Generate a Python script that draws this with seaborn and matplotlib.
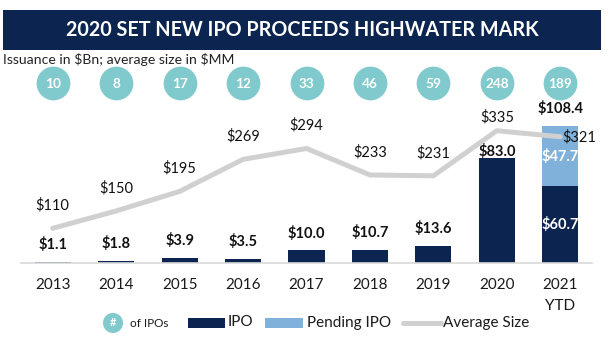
import matplotlib
matplotlib.use("Agg")
import numpy as np
import pandas as pd
import seaborn as sns
import matplotlib.pyplot as plt
from matplotlib.patches import Rectangle, Circle
from matplotlib.lines import Line2D

# ---- data ----
years = ["2013", "2014", "2015", "2016", "2017", "2018", "2019", "2020", "2021\nYTD"]
ipo_proceeds = [1.1, 1.8, 3.9, 3.5, 10.0, 10.7, 13.6, 83.0, 60.7]
pending_proceeds = [0, 0, 0, 0, 0, 0, 0, 0, 47.7]
avg_size = [110, 150, 195, 269, 294, 233, 231, 335, 321]
num_ipos = [10, 8, 17, 12, 33, 46, 59, 248, 189]

title = "2020 SET NEW IPO PROCEEDS HIGHWATER MARK"
subtitle = "Issuance in $Bn; average size in $MM"

NAVY = "#0c2550"
LIGHT = "#80b1da"
TEAL = "#80c9cc"
GRAY = "#d0d0d0"
TXT = "#1a1a1a"

sns.set_theme(style="white")
plt.rcParams["font.family"] = ["Lato", "DejaVu Sans"]
plt.rcParams["text.parse_math"] = False

W, H = 610, 342
fig = plt.figure(figsize=(W / 100, H / 100), dpi=100)


def fr(x0, y0, x1, y1):
    return [x0 / W, 1 - y1 / H, (x1 - x0) / W, (y1 - y0) / H]


total = np.add(ipo_proceeds, pending_proceeds)
df = pd.DataFrame({"year": years, "ipo": ipo_proceeds, "pending": pending_proceeds,
                   "total": total, "avg": avg_size})

ax = fig.add_axes(fr(21, 100, 592, 263))
sns.barplot(data=df, x="year", y="total", color=LIGHT, width=0.57, saturation=1,
            linewidth=0, ax=ax)
sns.barplot(data=df, x="year", y="ipo", color=NAVY, width=0.57, saturation=1,
            linewidth=0, ax=ax)
ax.set_xlim(-0.5, 8.5)
ax.set_ylim(0, 129.2)
ax.set_xlabel("")
ax.set_ylabel("")
ax.set_yticks([])
ax.tick_params(axis="x", length=0, pad=11, labelsize=11, labelcolor=TXT)
for lbl in ax.get_xticklabels():
    lbl.set_linespacing(1.6)
for s in ["top", "left", "right"]:
    ax.spines[s].set_visible(False)
ax.spines["bottom"].set_color("#d9d9d9")
ax.spines["bottom"].set_linewidth(1.2)

ax2 = ax.twinx()
sns.lineplot(x=np.arange(len(years)), y=avg_size, ax=ax2, color=GRAY, lw=3.6,
             solid_capstyle="round", solid_joinstyle="round")
ax2.set_ylim(30, 405.8)
ax2.set_yticks([])
ax2.set_ylabel("")
for s in ax2.spines.values():
    s.set_visible(False)

# bar labels
for i, (ip, pe, tot) in enumerate(zip(ipo_proceeds, pending_proceeds, total)):
    off = 5 if i == 7 else 12.5
    ax2.annotate(f"${tot:.1f}", xy=(i, tot), xycoords=ax.transData,
                 xytext=(0, off), textcoords="offset points", ha="center", va="center",
                 fontsize=10.5, fontweight="bold", color="#111111")
    if pe > 0:
        ax2.annotate(f"${pe:.1f}", xy=(i, ip + pe / 2), xycoords=ax.transData,
                     ha="center", va="center", fontsize=10.5, fontweight="bold", color="white")
        ax2.annotate(f"${ip:.1f}", xy=(i, ip / 2), xycoords=ax.transData,
                     ha="center", va="center", fontsize=10.5, fontweight="bold", color="white")

# line labels
for i, v in enumerate(avg_size):
    if i == len(avg_size) - 1:
        ax2.annotate(f"${v}", xy=(i, v), xytext=(1.5, 0), textcoords="offset points",
                     ha="left", va="center", fontsize=10.5, color="#111111")
    else:
        off = 10 if i == 7 else 16.5
        ax2.annotate(f"${v}", xy=(i, v), xytext=(0, off), textcoords="offset points",
                     ha="center", va="center", fontsize=10.5, color="#111111")

# number of IPOs circles
axc = fig.add_axes(fr(21, 66, 592, 100))
axc.set_xlim(-0.5, 8.5)
axc.set_ylim(-1, 1)
axc.axis("off")
sns.scatterplot(x=np.arange(len(num_ipos)), y=np.zeros(len(num_ipos)), s=590, color=TEAL,
                linewidth=0, legend=False, ax=axc)
for i, n in enumerate(num_ipos):
    axc.text(i, 0, str(n), ha="center", va="center_baseline", color="white",
             fontsize=9.8, fontweight="bold")

# overlay: title banner, subtitle, legend
axo = fig.add_axes([0, 0, 1, 1])
axo.set_xlim(0, W)
axo.set_ylim(H, 0)
axo.axis("off")
axo.patch.set_alpha(0)
axo.add_patch(Rectangle((3, 10), 598, 40, color=NAVY, lw=0))
axo.text(302, 30.5, title, ha="center", va="center", color="white", fontsize=14.2,
         fontweight="bold")
axo.text(3, 60, subtitle, ha="left", va="center", color="#222222", fontsize=10.1)

axo.add_patch(Circle((113, 323), 10, color=TEAL, lw=0))
axo.text(113, 323, "#", ha="center", va="center", color="white", fontsize=8, fontweight="bold")
axo.text(130, 323.5, "of IPOs", ha="left", va="center", color=TXT, fontsize=8.5)
axo.add_patch(Rectangle((188, 318), 37, 10, color=NAVY, lw=0))
axo.text(228, 322.5, "IPO", ha="left", va="center", color=TXT, fontsize=11)
axo.add_patch(Rectangle((265, 318), 38, 10, color=LIGHT, lw=0))
axo.text(307, 322.5, "Pending IPO", ha="left", va="center", color=TXT, fontsize=11)
axo.add_line(Line2D([403, 441], [322.5, 322.5], color=GRAY, lw=3.6, solid_capstyle="round"))
axo.text(443, 322.5, "Average Size", ha="left", va="center", color=TXT, fontsize=11)

fig.savefig("out.png", dpi=100, facecolor="white")
